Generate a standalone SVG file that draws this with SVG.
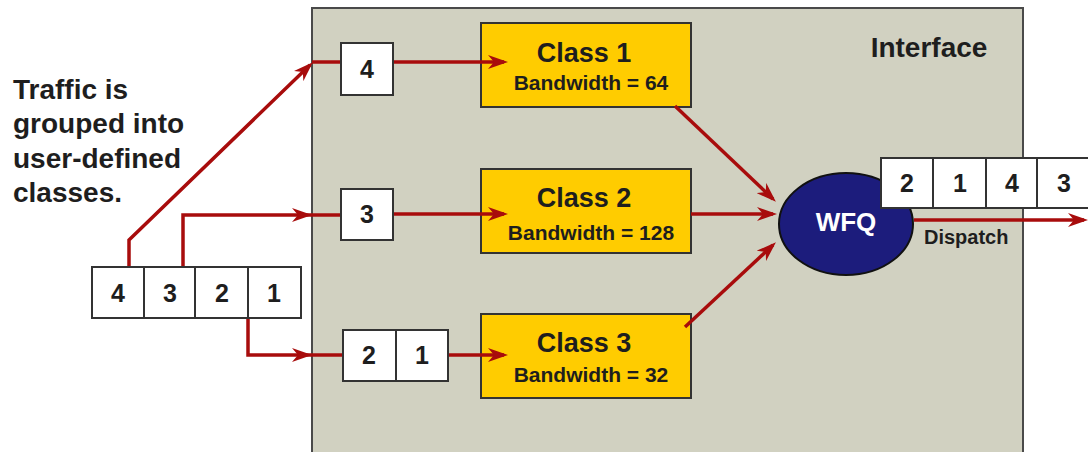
<svg xmlns="http://www.w3.org/2000/svg" width="1088" height="452" viewBox="0 0 1088 452">
<style>
text{font-family:"Liberation Sans",Arial,sans-serif;font-weight:bold;fill:#1e1e1e}
.cell{fill:#ffffff;stroke:#333;stroke-width:2}
.cls{fill:#ffcc00;stroke:#333;stroke-width:2}
.num{font-size:25px;text-anchor:middle}
.ct{font-size:27px;text-anchor:middle}
.bw{font-size:21px;text-anchor:middle}
.cap{font-size:28px}
.wire{fill:none;stroke:#a80c0c;stroke-width:3.5}
</style>
<defs>
<marker id="arr" viewBox="0 0 20 14" refX="16" refY="7" markerWidth="20" markerHeight="14" markerUnits="userSpaceOnUse" orient="auto">
<path d="M0,0 L20,7 L0,14 L6,7 Z" fill="#a80c0c"/>
</marker>
</defs>
<rect width="1088" height="452" fill="#ffffff"/>
<g id="interface">
<rect x="312" y="8" width="711" height="460" fill="#d1d1c1" stroke="#4a4a4a" stroke-width="2"/>
<text x="929" y="57" font-size="28" text-anchor="middle">Interface</text>
</g>
<g id="caption">
<text class="cap" x="13" y="99">Traffic is</text>
<text class="cap" x="13" y="133">grouped into</text>
<text class="cap" x="13" y="168">user-defined</text>
<text class="cap" x="13" y="202">classes.</text>
</g>
<g id="class1">
<rect class="cls" x="481" y="23" width="210" height="84"/>
<text class="ct" x="584" y="62">Class 1</text>
<text class="bw" x="591" y="90">Bandwidth = 64</text>
</g>
<g id="class2">
<rect class="cls" x="481" y="169" width="210" height="84"/>
<text class="ct" x="584" y="207">Class 2</text>
<text class="bw" x="591" y="240">Bandwidth = 128</text>
</g>
<g id="class3">
<rect class="cls" x="481" y="314" width="210" height="84"/>
<text class="ct" x="584" y="352">Class 3</text>
<text class="bw" x="591" y="382">Bandwidth = 32</text>
</g>
<g id="connectors">
<path class="wire" d="M129,267 V240 L310,65" marker-end="url(#arr)"/>
<path class="wire" d="M312,62 H341"/>
<path class="wire" d="M183,267 V215 H308" marker-end="url(#arr)"/>
<path class="wire" d="M308,215 H341"/>
<path class="wire" d="M248,318 V355 H308" marker-end="url(#arr)"/>
<path class="wire" d="M308,355 H343"/>
<path class="wire" d="M393,62 H504" marker-end="url(#arr)"/>
<path class="wire" d="M393,214 H504" marker-end="url(#arr)"/>
<path class="wire" d="M448,355 H504" marker-end="url(#arr)"/>
<path class="wire" d="M675,106 L773,199" marker-end="url(#arr)"/>
<path class="wire" d="M691,214 H773" marker-end="url(#arr)"/>
<path class="wire" d="M685,327 L773,245" marker-end="url(#arr)"/>
<path class="wire" d="M914,220 H1084" marker-end="url(#arr)"/>
</g>
<g id="input-queue">
<rect class="cell" x="92" y="267" width="52" height="51"/>
<rect class="cell" x="144" y="267" width="51" height="51"/>
<rect class="cell" x="195" y="267" width="53" height="51"/>
<rect class="cell" x="248" y="267" width="53" height="51"/>
<text class="num" x="118" y="302">4</text>
<text class="num" x="170" y="302">3</text>
<text class="num" x="222" y="302">2</text>
<text class="num" x="274" y="302">1</text>
</g>
<g id="q-class1">
<rect class="cell" x="341" y="43" width="52" height="52"/>
<text class="num" x="367" y="78">4</text>
</g>
<g id="q-class2">
<rect class="cell" x="341" y="189" width="52" height="51"/>
<text class="num" x="367" y="223">3</text>
</g>
<g id="q-class3">
<rect class="cell" x="343" y="330" width="53" height="51"/>
<rect class="cell" x="396" y="330" width="52" height="51"/>
<text class="num" x="369" y="364">2</text>
<text class="num" x="422" y="364">1</text>
</g>
<g id="wfq">
<ellipse cx="846" cy="224" rx="67" ry="51" fill="#1c1c7c" stroke="#111" stroke-width="2"/>
<text x="846" y="231" font-size="26" text-anchor="middle" style="fill:#ffffff">WFQ</text>
<text x="924" y="244" font-size="20">Dispatch</text>
</g>
<g id="output-queue">
<rect class="cell" x="881" y="158" width="52" height="50"/>
<rect class="cell" x="933" y="158" width="53" height="50"/>
<rect class="cell" x="986" y="158" width="51" height="50"/>
<rect class="cell" x="1037" y="158" width="53" height="50"/>
<text class="num" x="907" y="192">2</text>
<text class="num" x="960" y="192">1</text>
<text class="num" x="1012" y="192">4</text>
<text class="num" x="1064" y="192">3</text>
</g>
</svg>
